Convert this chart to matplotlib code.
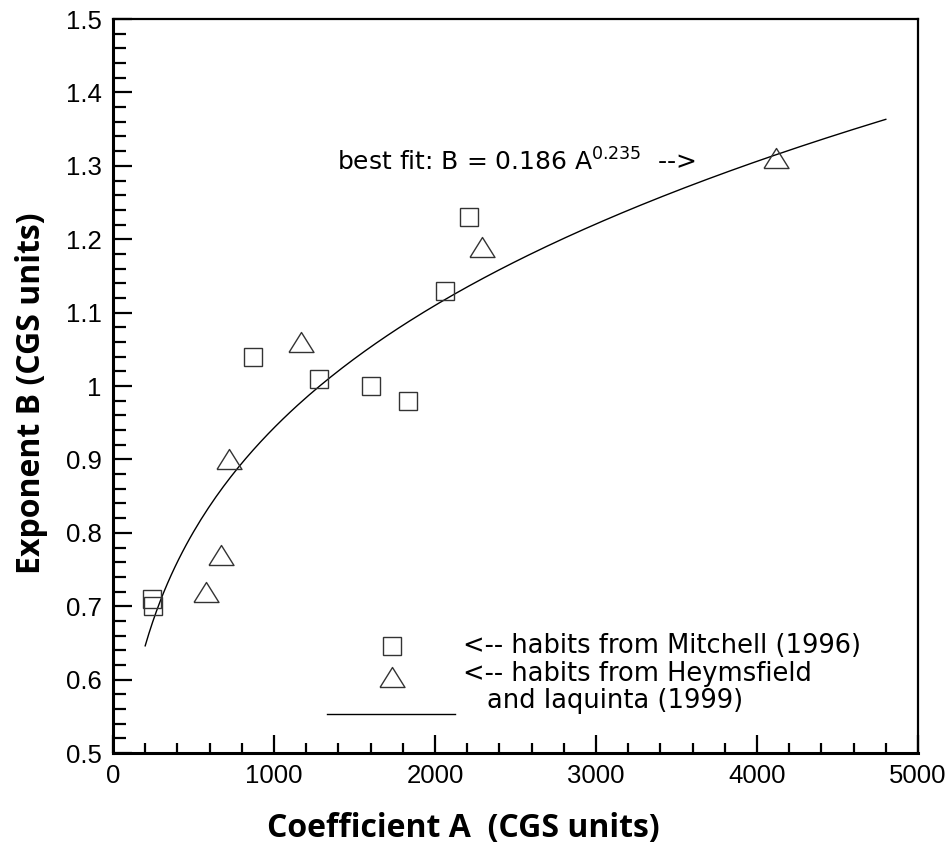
import numpy as np
import matplotlib
matplotlib.use("Agg")
import matplotlib.pyplot as plt
from matplotlib.ticker import MultipleLocator, FuncFormatter

plt.rcParams['font.family'] = ['Liberation Sans', 'DejaVu Sans']

# habits from Mitchell (1996)
mitchell_a = [240, 250, 870, 1280, 1600, 1830, 2060, 2210]
mitchell_b = [0.71, 0.70, 1.04, 1.01, 1.00, 0.98, 1.13, 1.23]

# habits from Heymsfield and Iaquinta (1999)
heyms_a = [580, 670, 720, 1170, 2290, 4120]
heyms_b = [0.72, 0.77, 0.90, 1.06, 1.19, 1.31]

# best fit B = 0.186 A^0.235, drawn from A = 200 to 4800
fit_coef = 0.186
fit_exp = 0.235
fit_a = np.linspace(200, 4800, 200)
fit_b = fit_coef * fit_a ** fit_exp

edge = '#333333'
tri = [(-1, -0.8), (1, -0.8), (0, 0.8), (-1, -0.8)]
label_font = ['Open Sans', 'Liberation Sans']
note_font = ['DejaVu Sans']

fig = plt.figure(figsize=(9.51, 8.46), dpi=100)
ax = fig.add_axes([0.1188, 0.1099, 0.8465, 0.8676])

ax.plot(fit_a, fit_b, color='black', lw=1.0)
ax.plot(mitchell_a, mitchell_b, ls='none', marker='s', ms=13, mfc='none',
        mec=edge, mew=1.0)
ax.plot(heyms_a, heyms_b, ls='none', marker=tri, ms=18, mfc='none',
        mec=edge, mew=1.0)

ax.set_xlim(0, 5000)
ax.set_ylim(0.5, 1.5)
ax.xaxis.set_major_locator(MultipleLocator(1000))
ax.xaxis.set_minor_locator(MultipleLocator(200))
ax.yaxis.set_major_locator(MultipleLocator(0.1))
ax.yaxis.set_minor_locator(MultipleLocator(0.02))
ax.yaxis.set_major_formatter(FuncFormatter(lambda v, p: f"{v:.1f}".rstrip('0').rstrip('.')))

ax.tick_params(which='both', direction='in', top=False, right=False,
               labelsize=18.5, pad=8, width=1.6)
ax.tick_params(axis='x', which='major', length=13)
ax.tick_params(axis='x', which='minor', length=7.5)
ax.tick_params(axis='y', which='major', length=14)
ax.tick_params(axis='y', which='minor', length=9.5)
for side in ['left', 'bottom']:
    ax.spines[side].set_linewidth(2.2)
for side in ['top', 'right']:
    ax.spines[side].set_linewidth(1.6)

ax.set_xlabel('Coefficient A  (CGS units)', fontsize=23, fontweight='bold',
              family=label_font)
ax.set_ylabel('Exponent B (CGS units)', fontsize=23, fontweight='bold',
              family=label_font)
ax.xaxis.set_label_coords(0.435, -0.08)
ax.yaxis.set_label_coords(-0.081, 0.49)

ax.text(1391, 1.293, r'best fit: B = 0.186 A$^{0.235}$  -->', fontsize=18,
        va='baseline', ha='left', family=note_font)

# legend keys
tr = ax.transAxes
ax.plot([0.346], [0.146], transform=tr, marker='s', ms=13, mfc='none',
        mec=edge, mew=1.0, clip_on=False)
ax.plot([0.346], [0.104], transform=tr, marker=tri, ms=18, mfc='none',
        mec=edge, mew=1.0, clip_on=False)
ax.plot([0.266, 0.425], [0.053, 0.053], transform=tr, color='black', lw=1.0)
ax.text(0.435, 0.146, '<-- habits from Mitchell (1996)', transform=tr,
        fontsize=18.5, va='center', ha='left', family=note_font)
ax.text(0.435, 0.107, '<-- habits from Heymsfield', transform=tr,
        fontsize=18.5, va='center', ha='left', family=note_font)
ax.text(0.464, 0.071, 'and Iaquinta (1999)', transform=tr,
        fontsize=18.5, va='center', ha='left', family=note_font)

fig.savefig('out.png', dpi=100)
